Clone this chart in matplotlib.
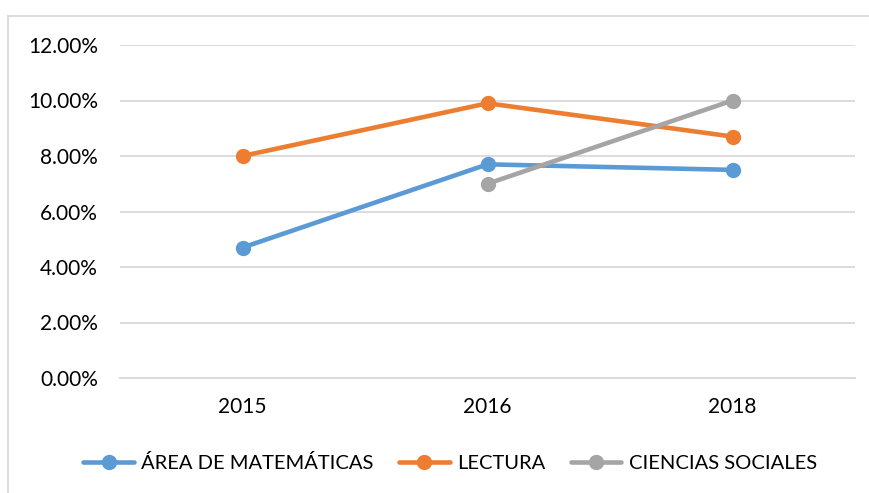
import matplotlib
matplotlib.use("Agg")
import matplotlib.pyplot as plt
import numpy as np
from matplotlib.lines import Line2D
from matplotlib.ticker import FuncFormatter

plt.rcParams['font.family'] = ['Lato', 'DejaVu Sans']

years = ["2015", "2016", "2018"]
matematicas = [4.7, 7.7, 7.5]
lectura = [8.0, 9.9, 8.7]
ciencias = [np.nan, 7.0, 10.0]
series_names = ["ÁREA DE MATEMÁTICAS", "LECTURA", "CIENCIAS SOCIALES"]
colors = ["#5B9BD5", "#ED7D31", "#A5A5A5"]

W, H = 869, 493
fig = plt.figure(figsize=(W/100, H/100), dpi=100)
ax = fig.add_axes([120/W, 1-378/H, (855-120)/W, (378-45)/H])

x = np.arange(len(years))
for vals, name, c in zip([matematicas, lectura, ciencias], series_names, colors):
    ax.plot(x, vals, color=c, linewidth=3.3, marker='o', markersize=10, label=name,
            solid_capstyle='round', zorder=3)

ax.set_ylim(0, 12)
ax.set_yticks(np.arange(0, 12.01, 2))
ax.yaxis.set_major_formatter(FuncFormatter(lambda v, p: f"{v:.2f}%"))
ax.set_xlim(-0.5, 2.5)
ax.set_xticks(x)
ax.set_xticklabels(years)
ax.grid(axis='y', color='#D9D9D9', linewidth=1.3)
ax.set_axisbelow(True)
for s in ['top', 'right', 'left']:
    ax.spines[s].set_visible(False)
ax.spines['bottom'].set_color('#D9D9D9')
ax.spines['bottom'].set_linewidth(1.3)
ax.tick_params(axis='both', length=0, labelsize=15, colors='#000000')
ax.tick_params(axis='x', pad=14)
ax.tick_params(axis='y', pad=16)

leg = fig.legend(loc='center', bbox_to_anchor=(450/W, 1-463/H), ncol=3, frameon=False,
                 fontsize=14.5, handlelength=2.5, columnspacing=1.3, handletextpad=0.35)

fig.add_artist(Line2D([8/W, 8/W], [0, 1-16/H], transform=fig.transFigure,
                      color='#D9D9D9', linewidth=1.3))
fig.add_artist(Line2D([8/W, 1], [1-16/H, 1-16/H], transform=fig.transFigure,
                      color='#D9D9D9', linewidth=1.3))

fig.savefig("out.png", dpi=100)
